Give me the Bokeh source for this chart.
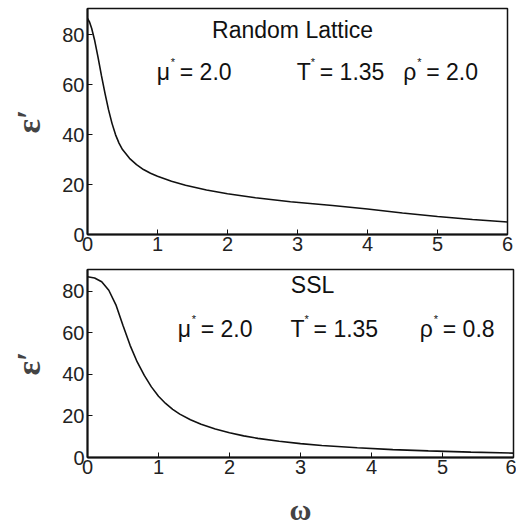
from bokeh.plotting import figure
from bokeh.layouts import column
from bokeh.models import Range1d, Label, FixedTicker
from bokeh.embed import file_html
from bokeh.resources import INLINE

# ---- data ----
omega_top = [0, 0.03, 0.06, 0.1, 0.15, 0.2, 0.25, 0.3, 0.35, 0.4, 0.45, 0.5, 0.6, 0.7,
             0.8, 0.9, 1.0, 1.2, 1.4, 1.7, 2.0, 2.4, 2.9, 3.5, 4.0, 4.5, 5.0, 5.5, 6.0]
eps_top = [86.5, 85, 82.5, 78, 71, 63.5, 56.5, 50, 44.5, 40, 36.6, 34, 30.5, 28,
           26, 24.5, 23.3, 21.3, 19.7, 17.8, 16.3, 14.7, 13.1, 11.6, 10.2, 8.6, 7.2, 6.0, 5.0]

omega_bot = [0, 0.1, 0.2, 0.3, 0.4, 0.5, 0.6, 0.7, 0.8, 0.9, 1.0, 1.1, 1.2, 1.3, 1.45,
             1.6, 1.8, 2.0, 2.2, 2.4, 2.7, 3.0, 3.3, 3.8, 4.3, 4.8, 5.4, 6.0]
eps_bot = [87, 86.4, 84.6, 80.5, 73.5, 63.5, 54, 46, 39.5, 34, 29.5, 26, 23.2, 20.9, 18.2,
           16, 13.7, 11.9, 10.4, 9.2, 7.8, 6.7, 5.8, 4.7, 3.8, 3.2, 2.6, 2.1]

x_ticks = [0, 1, 2, 3, 4, 5, 6]
y_ticks = [0, 20, 40, 60, 80]

title_top = "Random Lattice"
title_bot = "SSL"
params_top = [("μ", "2.0"), ("T", "1.35"), ("ρ", "2.0")]
params_bot = [("μ", "2.0"), ("T", "1.35"), ("ρ", "0.8")]

SANS = "Liberation Sans"
SERIF = "Liberation Serif"
INK = "#111111"


def style(p, xlabel=None):
    p.outline_line_color = INK
    p.outline_line_width = 1.5
    p.xgrid.visible = False
    p.ygrid.visible = False
    for ax in (p.xaxis[0], p.yaxis[0]):
        ax.axis_line_width = 2
        ax.axis_line_color = INK
        ax.major_tick_in = 5
        ax.major_tick_out = 0
        ax.minor_tick_line_color = None
        ax.major_tick_line_color = INK
        ax.major_label_text_font = SANS
        ax.major_label_text_font_size = "20px"
        ax.major_label_text_color = "#222222"
    p.xaxis[0].ticker = FixedTicker(ticks=x_ticks)
    p.yaxis[0].ticker = FixedTicker(ticks=y_ticks)
    p.xaxis[0].major_label_standoff = 2
    p.yaxis[0].major_label_standoff = 3
    p.yaxis[0].axis_label = "ε′"
    p.yaxis[0].axis_label_text_font = SERIF
    p.yaxis[0].axis_label_text_font_style = "bold"
    p.yaxis[0].axis_label_text_font_size = "34px"
    p.yaxis[0].axis_label_standoff = 12
    if xlabel:
        p.xaxis[0].axis_label = xlabel
        p.xaxis[0].axis_label_text_font = SERIF
        p.xaxis[0].axis_label_text_font_style = "bold"
        p.xaxis[0].axis_label_text_font_size = "30px"
        p.xaxis[0].axis_label_standoff = 16


def add_params(p, params, positions, y):
    for (sym, val), x in zip(params, positions):
        p.add_layout(Label(x=x, y=y, text=sym, text_font=SANS, text_font_size="23px",
                           text_color=INK, text_baseline="alphabetic"))
        p.add_layout(Label(x=x, y=y, x_offset=14, y_offset=10, text="*", text_font=SANS,
                           text_font_size="11px", text_color=INK, text_baseline="alphabetic"))
        p.add_layout(Label(x=x, y=y, x_offset=23, text="= " + val, text_font=SANS,
                           text_font_size="23px", text_color=INK, text_baseline="alphabetic"))


# ---- top panel ----
p1 = figure(frame_width=420, frame_height=226, min_border_left=86, min_border_right=10,
            min_border_top=8, min_border_bottom=20, x_range=Range1d(0, 6),
            y_range=Range1d(0, 90.5), output_backend="svg", toolbar_location=None)
p1.line(omega_top, eps_top, line_color=INK, line_width=1.6)
style(p1)
p1.add_layout(Label(x=2.93, y=81.8, text=title_top, text_font=SANS, text_font_size="23px",
                    text_color=INK, text_align="center", text_baseline="alphabetic"))
add_params(p1, params_top, [0.99, 2.99, 4.51], 65)

# ---- bottom panel ----
p2 = figure(frame_width=426, frame_height=188, min_border_left=87, min_border_right=3,
            min_border_top=15, min_border_bottom=68, x_range=Range1d(0, 6),
            y_range=Range1d(0, 90.5), output_backend="svg", toolbar_location=None)
p2.line(omega_bot, eps_bot, line_color=INK, line_width=1.6)
style(p2, xlabel="ω")
p2.add_layout(Label(x=3.17, y=82.8, text=title_bot, text_font=SANS, text_font_size="23px",
                    text_color=INK, text_align="center", text_baseline="alphabetic"))
add_params(p2, params_bot, [1.27, 2.86, 4.68], 61.7)

layout = column(p1, p2, spacing=0)
open("out.html", "w").write(file_html(layout, INLINE))
